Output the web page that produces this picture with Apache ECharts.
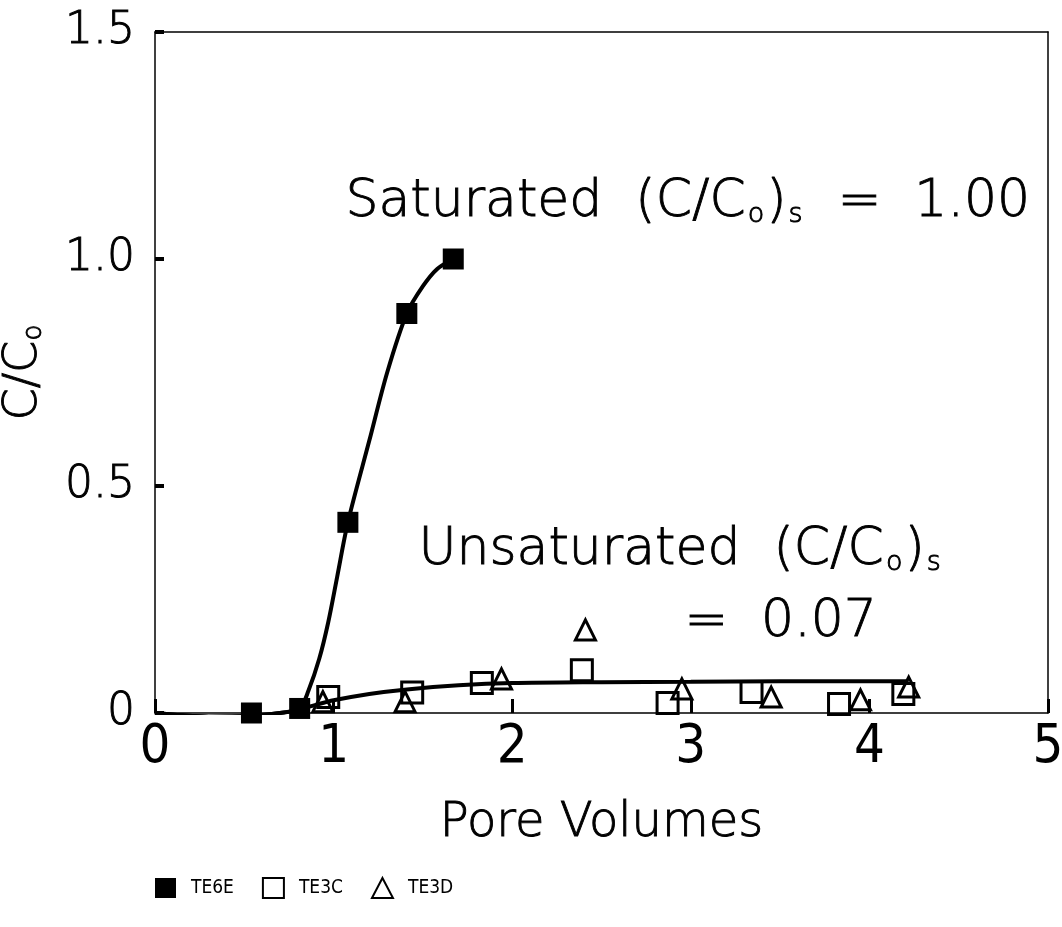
<!DOCTYPE html>
<html>
<head>
<meta charset="utf-8">
<script src="https://cdn.jsdelivr.net/npm/echarts@6/dist/echarts.min.js"></script>
<style>
  html, body { margin: 0; padding: 0; background: #fff; }
  #chart { width: 1062px; height: 927px; }
</style>
</head>
<body>
<div id="chart"></div>
<script>
// Axis ticks
const xTicks = [0, 1, 2, 3, 4, 5];
const yTickLabels = { 0: '0', 0.5: '0.5', 1: '1.0', 1.5: '1.5' };

// Measured breakthrough data: pore volumes vs relative concentration
const te6eX = [0.54, 0.81, 1.08, 1.41, 1.67];
const te6eY = [0.00, 0.01, 0.42, 0.88, 1.00];

const te3cX = [0.97, 1.44, 1.83, 2.39, 2.87, 3.34, 3.83, 4.19];
const te3cY = [0.035, 0.045, 0.066, 0.094, 0.022, 0.046, 0.020, 0.042];

const te3dX = [0.94, 1.40, 1.94, 2.41, 2.95, 3.45, 3.95, 4.22];
const te3dY = [0.025, 0.025, 0.075, 0.183, 0.053, 0.035, 0.029, 0.057];

// Fitted curves (saturated and unsaturated columns)
const satCurveX = [0, 0.15, 0.3, 0.54, 0.7, 0.81, 0.86, 0.92, 0.97, 1.02, 1.08, 1.2, 1.3, 1.41, 1.5, 1.58, 1.67];
const satCurveY = [0.0, -0.005, -0.008, -0.006, 0.0, 0.01, 0.05, 0.12, 0.2, 0.3, 0.42, 0.6, 0.75, 0.88, 0.94, 0.978, 1.0];

const unsatCurveX = [0, 0.15, 0.3, 0.54, 0.7, 0.81, 0.9, 1.0, 1.2, 1.41, 1.7, 2.0, 2.5, 3.0, 3.5, 4.0, 4.22];
const unsatCurveY = [0.0, -0.005, -0.008, -0.006, 0.0, 0.008, 0.018, 0.028, 0.042, 0.052, 0.061, 0.066, 0.068, 0.069, 0.07, 0.07, 0.07];

const zip = (xs, ys) => xs.map((x, i) => [x, ys[i]]);

const FONT = '"DejaVu Sans", sans-serif';
const FONT_C = '"DejaVu Sans Condensed", "DejaVu Sans", sans-serif';

// thin lettering, lightly stroked so it reads black
const thin = { fontFamily: FONT, fontWeight: 200, color: '#000', textBorderColor: '#000', textBorderWidth: 0.9 };
// same look for raw graphic text (zrender style names)
const thinG = { fontFamily: FONT, fontWeight: 200, fill: '#000', stroke: '#000', lineWidth: 0.9 };

const chart = echarts.init(document.getElementById('chart'), null, { renderer: 'canvas' });

const subRich = {
  a: Object.assign({}, thinG, { fontSize: 52, verticalAlign: 'bottom', lineHeight: 60 }),
  sub: Object.assign({}, thinG, { fontSize: 27, verticalAlign: 'bottom', lineHeight: 60, padding: [0, 2, 0, 2] })
};

const option = {
  backgroundColor: '#fff',
  animation: false,
  grid: { left: 155, right: 14, top: 32, bottom: 214, containLabel: false, outerBoundsMode: 'none' },
  xAxis: [{
    type: 'value', min: 0, max: 5, interval: 1,
    name: 'Pore Volumes', nameLocation: 'middle', nameGap: 87,
    nameTextStyle: Object.assign({}, thin, { fontSize: 48 }),
    axisLine: { onZero: false, lineStyle: { color: '#000', width: 1.5 } },
    axisTick: { inside: true, length: 14, lineStyle: { color: '#000', width: 3 } },
    axisLabel: { fontFamily: FONT_C, fontSize: 54, color: '#000', margin: 8,
      formatter: v => String(v) },
    splitLine: { show: false }
  }, {
    type: 'value', min: 0, max: 5, position: 'top',
    axisLine: { show: true, onZero: false, lineStyle: { color: '#000', width: 1.5 } },
    axisTick: { show: false }, axisLabel: { show: false }, splitLine: { show: false }
  }],
  yAxis: [{
    type: 'value', min: 0, max: 1.5, interval: 0.5,
    name: '{m|C/C}{sub|o}', nameLocation: 'middle', nameGap: 108, nameRotate: 90,
    nameTextStyle: { color: '#000',
      rich: {
        m: Object.assign({}, thin, { fontSize: 46, verticalAlign: 'bottom', lineHeight: 52 }),
        sub: Object.assign({}, thin, { fontSize: 26, verticalAlign: 'bottom', lineHeight: 52 })
      } },
    axisLine: { onZero: false, lineStyle: { color: '#000', width: 1.5 } },
    axisTick: { inside: true, length: 9, lineStyle: { color: '#000', width: 4 } },
    axisLabel: Object.assign({}, thin, { fontSize: 44, margin: 20,
      formatter: v => yTickLabels[v] }),
    splitLine: { show: false }
  }, {
    type: 'value', min: 0, max: 1.5, position: 'right',
    axisLine: { show: true, onZero: false, lineStyle: { color: '#000', width: 1.5 } },
    axisTick: { show: false }, axisLabel: { show: false }, splitLine: { show: false }
  }],
  legend: {
    left: 150, top: 872, orient: 'horizontal', itemGap: 28,
    itemWidth: 21, itemHeight: 20,
    data: ['TE6E', 'TE3C', 'TE3D'],
    textStyle: { fontFamily: FONT_C, fontSize: 19, color: '#000', padding: [0, 0, 0, 10] }
  },
  series: [
    {
      name: 'saturated fit', type: 'line', data: zip(satCurveX, satCurveY),
      smooth: 0.3, showSymbol: false, symbol: 'none',
      lineStyle: { color: '#000', width: 4 }, z: 2
    },
    {
      name: 'unsaturated fit', type: 'line', data: zip(unsatCurveX, unsatCurveY),
      smooth: 0.3, showSymbol: false, symbol: 'none',
      lineStyle: { color: '#000', width: 4 }, z: 2
    },
    {
      name: 'TE6E', type: 'scatter', data: zip(te6eX, te6eY),
      symbol: 'rect', symbolSize: 21,
      itemStyle: { color: '#000', opacity: 1 }, z: 3
    },
    {
      name: 'TE3C', type: 'scatter', data: zip(te3cX, te3cY),
      symbol: 'rect', symbolSize: 21,
      itemStyle: { color: 'rgba(255,255,255,0)', borderColor: '#000', borderWidth: 3, opacity: 1 }, z: 3
    },
    {
      name: 'TE3D', type: 'scatter', data: zip(te3dX, te3dY),
      symbol: 'triangle', symbolSize: 20,
      itemStyle: { color: 'rgba(255,255,255,0)', borderColor: '#000', borderWidth: 3, opacity: 1 }, z: 3
    }
  ],
  graphic: [
    {
      type: 'text', left: 345, top: 176, z: 10,
      style: {
        text: '{a|Saturated  (C/C}{sub|o}{a|)}{sub|s}{a|  =  1.00}',
        rich: subRich
      }
    },
    {
      type: 'text', left: 418, top: 524, z: 10,
      style: {
        text: '{a|Unsaturated  (C/C}{sub|o}{a|)}{sub|s}',
        rich: subRich
      }
    },
    {
      type: 'text', left: 684, top: 596, z: 10,
      style: {
        text: '{a|=  0.07}',
        rich: subRich
      }
    }
  ]
};

chart.setOption(option);
</script>
</body>
</html>
